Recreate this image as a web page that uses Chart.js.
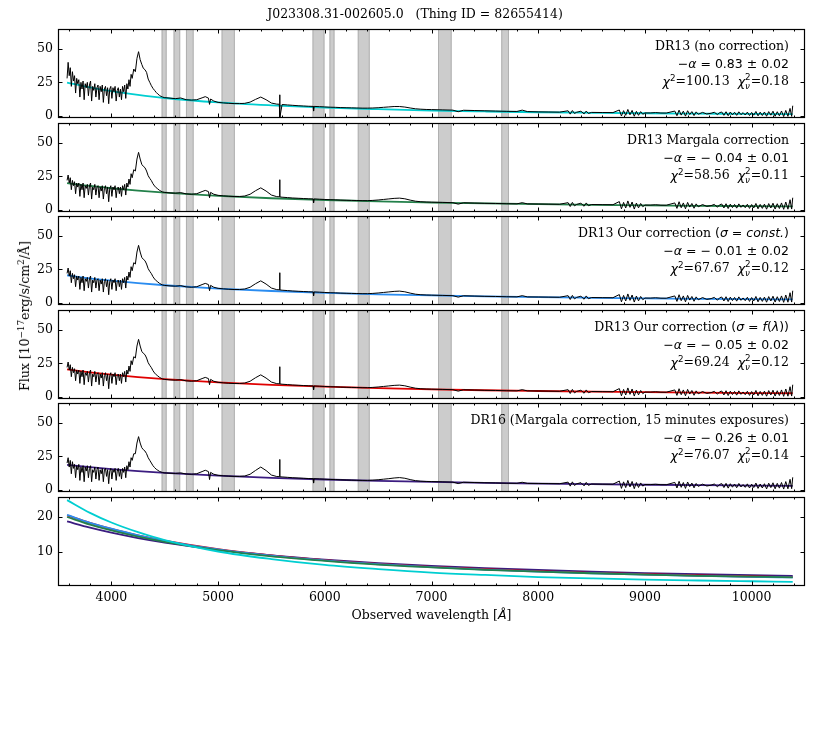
<!DOCTYPE html>
<html>
<head>
<meta charset="utf-8">
<script src="https://cdn.jsdelivr.net/npm/chart.js@4.4.1/dist/chart.umd.min.js"></script>
<style>
  body { margin: 0; background: #fff; }
  #fig { position: relative; width: 830px; height: 738px; overflow: hidden; font-family: 'DejaVu Serif', serif; color: #000; }
  canvas { position: absolute; left: 0; }
  .txt { position: absolute; font-size: 12.5px; line-height: 16px; white-space: pre; }
  .ann { right: 41px; text-align: right; }
  .m { font-family: 'DejaVu Sans', sans-serif; }
  sup { font-size: 0.7em; vertical-align: 0.55em; line-height: 0; }
  .ss { display: inline-block; font-size: 0.7em; line-height: 0.95; vertical-align: -0.35em; text-align: left; }
  .ss span { display: block; }
</style>
</head>
<body>
<div id="fig"></div>
<script>
// ---- data ----

// wavelength grid of the spectra [Angstrom]
const wave = [
  3585,3595,3605,3615,3625,3635,3645,3655,3665,3675,
  3685,3695,3705,3715,3725,3735,3745,3755,3765,3775,
  3785,3795,3805,3815,3825,3835,3845,3855,3865,3875,
  3885,3895,3905,3915,3925,3935,3945,3955,3965,3975,
  3985,3995,4005,4015,4025,4035,4045,4055,4065,4075,
  4085,4095,4105,4115,4125,4135,4145,4155,4165,4175,
  4185,4195,
  4210,4225,4240,4255,4270,4285,4300,4315,4330,4345,
  4360,4375,4390,4405,4420,4435,4450,4465,4480,4495,
  4550,4600,4650,4700,4750,4800,4850,4880,4910,4920,
  4930,4960,5000,5050,5100,5150,5200,5250,5300,5350,
  5400,5450,5500,5550,5574,5577,5580,5600,5650,5700,
  5750,5800,5850,5890,5895,5900,5950,6000,6050,6100,
  6150,6200,6250,6300,6350,6400,6450,6500,6550,6600,
  6650,6700,6750,6800,6850,6900,6950,7000,7100,7200,
  7250,7300,7400,7500,7600,7700,7800,7850,7900,
  8000,8100,8200,8280,8300,8320,8340,8360,8400,8430,
  8450,8470,8500,8600,8700,8760,8780,8800,8820,8840,
  8860,8880,8900,8920,8940,8960,8980,9000,9050,9100,
  9150,9200,9280,9300,9320,9340,9360,9380,9400,9420,
  9440,9460,9480,9500,9540,9580,9620,9650,9680,9700,
  9720,9740,9760,9780,9800,9820,9840,9860,9880,9900,
  9920,9940,9960,9980,10000,10020,10040,10060,10080,10100,
  10120,10140,10160,10180,10200,10220,10240,10260,10280,10300,
  10320,10340,10360,10375,10385
];

// DR13 spectrum without correction
const fluxNoCorr = [
  28,40,30,36,22,33,26,30,17,28,
  24,27,14,25,20,26,12,24,21,25,
  15,23,26,11,22,19,24,14,21,23,
  12,22,18,23,10,20,22,15,21,9,
  20,22,13,21,18,22,11,19,21,14,
  20,12,22,18,23,13,24,20,27,22,
  31,28,
  35,33,43,48,42,38.5,35.5,34.5,32.5,27.5,
  25,22.5,20.5,19,17.5,16.3,15.3,14.5,14,13.6,
  13.2,12.8,13.3,12.0,11.7,12.0,13.4,14.3,13.2,8.5,
  12.5,11.0,10.0,9.6,9.3,9.1,9.1,9.3,10.2,12.2,
  14.0,12.0,9.5,8.7,8.6,15.7,-1.5,8.4,8.1,7.8,
  7.5,7.3,7.1,7.0,3.5,7.0,6.8,6.6,6.4,6.3,
  6.1,6.0,5.9,5.8,5.7,5.7,5.8,6.0,6.3,6.6,
  6.9,6.9,6.5,5.8,5.2,4.9,4.7,4.6,4.4,4.2,
  3.0,4.1,3.9,3.7,3.5,3.3,3.2,4.2,3.1,
  2.9,2.8,2.7,3.7,1.2,3.9,1.7,2.6,3.4,1.4,
  3.5,1.7,2.5,2.4,2.35,4.3,-0.2,3.8,0.3,4.7,
  0.7,4.0,-0.4,3.3,0.3,3.1,1.1,2.1,2.08,2.36,
  2.04,2.02,3.5,0,4.2,0.45,3.45,-0.3,3.75,0.9,
  3.1,0.1,2.9,1.1,2.5,1.3,1.85,2.6,0.85,2.3,
  2.8,0.3,3.0,0,2.8,0.6,2.58,0.28,2.96,0.76,
  2.34,0.52,2.72,0.1,2.5,0.4,3.2,-0.1,2.7,0.15,
  2.8,-0.4,3.1,0.4,3.4,-0.4,3.0,-0.05,3.55,-0.65,
  4.0,-0.45,5.5,-0.5,7.5
];

// DR13 spectrum with flux correction (Margala / ours)
const fluxCorr = [
  22,26,20,24,15,22,18,21,12,20,
  17,20,10,19,15,20,9,18,16,19,
  11,18,20,8,17,15,19,11,17,18,
  9,17,14,18,8,16,18,12,17,6,
  16,18,10,17,15,18,9,16,17,12,
  17,10,18,15,19,11,20,17,23,19,
  27,24,
  30,29,38,43,38,34,32.5,31.5,29,25.5,
  23.5,21.8,19.5,17.8,16.5,15.6,14.6,13.9,13.3,13.0,
  12.6,12.4,12.8,11.9,11.6,12.0,13.6,14.5,13.6,9.0,
  13.0,11.6,10.8,10.4,10.1,9.9,9.9,10.3,11.6,14.2,
  16.4,14.0,11.0,9.8,9.7,22.5,9.6,9.4,9.1,8.8,
  8.6,8.4,8.2,8.1,5.2,8.1,7.9,7.7,7.5,7.4,
  7.2,7.1,7.0,6.9,6.8,6.8,7.0,7.3,7.7,8.1,
  8.5,8.7,8.2,7.2,6.4,6.0,5.8,5.7,5.5,5.3,
  4.2,5.2,5.0,4.8,4.7,4.5,4.4,5.3,4.35,
  4.3,4.2,4.1,5.3,2.4,5.5,2.9,4.0,4.9,2.6,
  5.1,3.0,3.9,3.8,3.75,6.1,0.7,5.5,1.3,6.6,
  1.8,5.8,0.5,5.0,1.4,4.7,2.3,3.5,3.47,3.74,
  3.41,3.38,5.1,1.0,6.0,1.5,5.1,0.7,5.5,2.0,
  4.7,1.1,4.4,2.2,3.9,2.5,3.1,4.0,1.9,3.7,
  4.3,1.3,4.5,0.9,4.2,1.6,4.0,1.2,4.4,1.8,
  3.6,1.5,4.1,1.0,3.9,1.3,4.7,0.7,4.0,1.0,
  4.2,0.4,4.6,1.3,4.9,0.5,4.5,0.9,5.1,0.3,
  5.8,0.4,7.5,0.5,9.0
];

// DR16 spectrum
const fluxDR16 = [
  20,24,17,22,12,21,16,19,9,18,
  15,19,7,17,13,18,6,17,14,18,
  9,16,18,6,15,13,17,8,15,17,
  7,15,12,16,6,15,16,10,15,4.5,
  14,16,8,15,13,16,7,14,16,10,
  15,8,16,13,17,9,18,15,21,17,
  24,22,
  27,27,35,39.8,35,31.5,30,29,27,24,
  22,20,18,16.6,15.4,14.6,13.8,13.3,12.9,12.6,
  12.4,12.2,12.6,11.8,11.6,12.0,13.6,14.6,13.6,7.6,
  13.0,11.6,10.8,10.4,10.2,10.0,10.0,10.3,11.6,14.4,
  17.0,14.4,11.0,9.9,9.8,22.7,9.7,9.6,9.3,9.0,
  8.8,8.6,8.4,8.3,5.0,8.3,8.1,7.9,7.7,7.6,
  7.4,7.3,7.2,7.1,7.0,7.0,7.2,7.5,7.9,8.3,
  8.8,9.1,8.6,7.6,6.8,6.4,6.2,6.1,5.9,5.7,
  4.6,5.6,5.4,5.2,5.1,4.9,4.8,5.6,4.75,
  4.7,4.6,4.5,5.7,2.7,5.9,3.2,4.4,5.3,2.9,
  5.5,3.3,4.3,4.2,4.15,6.5,1.0,5.9,1.6,7.0,
  2.1,6.2,0.8,5.4,1.7,5.1,2.7,3.9,3.86,4.12,
  3.78,3.74,5.5,1.3,6.3,1.8,5.4,1.0,5.8,2.3,
  5.0,1.4,4.7,2.5,4.2,2.8,3.42,4.3,2.2,4.0,
  4.6,1.6,4.8,1.2,4.5,1.9,4.3,1.5,4.7,2.1,
  3.9,1.8,4.4,1.3,4.2,1.6,5.0,1.0,4.3,1.3,
  4.5,0.6,4.9,1.6,5.2,0.7,4.8,1.2,5.4,0.5,
  6.1,0.7,7.8,0.8,9.3
];

// power-law fits, read at a few wavelengths
const fitWave   = [3585, 3800, 4000, 4250, 4500, 5000, 5500, 6000, 6500, 7000, 7500, 8000, 8500, 9000, 9500, 10000, 10385];
const fitNoCorr = [24.9, 21.2, 18.4, 15.6, 13.3, 10.0, 7.8, 6.1, 4.9, 3.9, 3.2, 2.6, 2.2, 1.85, 1.6, 1.38, 1.22];
const fitMargala = [20.0, 17.8, 16.1, 14.3, 12.8, 10.4, 8.6, 7.3, 6.2, 5.4, 4.7, 4.15, 3.7, 3.3, 2.95, 2.7, 2.5];
const fitOurConst = [20.6, 18.3, 16.6, 14.7, 13.1, 10.6, 8.8, 7.4, 6.3, 5.45, 4.75, 4.15, 3.7, 3.3, 2.95, 2.65, 2.48];
const fitOurLam = [20.5, 18.3, 16.55, 14.7, 13.15, 10.7, 8.9, 7.5, 6.4, 5.55, 4.85, 4.3, 3.8, 3.4, 3.05, 2.75, 2.6];
const fitDR16   = [18.7, 16.9, 15.45, 13.9, 12.6, 10.5, 8.9, 7.65, 6.65, 5.85, 5.2, 4.65, 4.15, 3.75, 3.42, 3.14, 2.95];

// masked regions (grey bands)
const bandStart = [4471, 4583, 4699, 5033, 5885, 6044, 6309, 7061, 7654];
const bandEnd   = [4518, 4645, 4771, 5157, 5997, 6091, 6421, 7189, 7726];

// ticks
const xTicks = [4000, 5000, 6000, 7000, 8000, 9000, 10000];
const yTicksSpec = [0, 25, 50];
const yTicksFit = [10, 20];

// labels
const titleText = 'J023308.31-002605.0   (Thing ID = 82655414)';
const panelNames = [
  'DR13 (no correction)',
  'DR13 Margala correction',
  'DR13 Our correction <span class="m">(<i>σ</i> = <i>const.</i>)</span>',
  'DR13 Our correction <span class="m">(<i>σ</i> = <i>f</i>(<i>λ</i>))</span>',
  'DR16 (Margala correction, 15 minutes exposures)'
];
const alphaText = ['0.83 ± 0.02', '− 0.04 ± 0.01', '− 0.01 ± 0.02', '− 0.05 ± 0.02', '− 0.26 ± 0.01'];
const chi2 = ['100.13', '58.56', '67.67', '69.24', '76.07'];
const chi2nu = ['0.18', '0.11', '0.12', '0.12', '0.14'];

const colors = ['#00ced1', '#23804a', '#2a8cf0', '#e00000', '#3b1c80'];

// ---- drawing ----
Chart.defaults.font.family = "'DejaVu Serif', serif";
Chart.defaults.font.size = 12.5;
Chart.defaults.color = '#000';

const fig = document.getElementById('fig');

//frame, inward ticks and grey bands (matplotlib look)
const framePlugin = {
  id: 'frame',
  beforeDatasetsDraw(chart, args, opts) {
    if (!opts.bands) return;
    const { ctx, chartArea: a, scales: { x } } = chart;
    ctx.save();
    bandStart.forEach((s, i) => {
      const x0 = x.getPixelForValue(s), x1 = x.getPixelForValue(bandEnd[i]);
      ctx.fillStyle = '#cccccc';
      ctx.fillRect(x0, a.top, x1 - x0, a.bottom - a.top);
      ctx.strokeStyle = '#b0b0b0';
      ctx.lineWidth = 1;
      ctx.beginPath();
      ctx.moveTo(x0 + 0.5, a.top); ctx.lineTo(x0 + 0.5, a.bottom);
      ctx.moveTo(x1 - 0.5, a.top); ctx.lineTo(x1 - 0.5, a.bottom);
      ctx.stroke();
    });
    ctx.restore();
  },
  afterDraw(chart, args, opts) {
    const { ctx, chartArea: a, scales: { x, y } } = chart;
    ctx.save();
    ctx.strokeStyle = '#000';
    ctx.lineWidth = 1;
    ctx.beginPath();
    for (let v = 3600; v <= 10400; v += 200) {
      const px = Math.round(x.getPixelForValue(v)) + 0.5;
      const len = v % 1000 === 0 ? 4.5 : 2.5;
      ctx.moveTo(px, a.top); ctx.lineTo(px, a.top + len);
      ctx.moveTo(px, a.bottom); ctx.lineTo(px, a.bottom - len);
    }
    opts.yTicks.forEach(v => {
      const py = Math.round(y.getPixelForValue(v)) + 0.5;
      ctx.moveTo(a.left, py); ctx.lineTo(a.left + 4.5, py);
      ctx.moveTo(a.right, py); ctx.lineTo(a.right - 4.5, py);
    });
    ctx.stroke();
    ctx.lineWidth = 1.2;
    ctx.strokeRect(Math.round(a.left) + 0.5, Math.round(a.top) + 0.5,
      Math.round(a.right - a.left) - 1, Math.round(a.bottom - a.top) - 1);
    ctx.restore();
  }
};

function points(xs, ys) {
  const n = Math.min(xs.length, ys.length);
  const out = [];
  for (let i = 0; i < n; i++) out.push({ x: xs[i], y: ys[i] });
  return out;
}

function specSet(flux) {
  return { data: points(wave, flux), borderColor: '#000', borderWidth: 1, pointRadius: 0, tension: 0 };
}
function fitSet(fit, color) {
  return { data: points(fitWave, fit), borderColor: color, borderWidth: 1.8, pointRadius: 0, cubicInterpolationMode: 'monotone' };
}

const panelTops = [29, 123, 216, 310, 403, 497];
const panelH = 89;

function makePanel(i, datasets, yMin, yMax, yTicks, last) {
  // padding larger than half a tick label + tick padding, so the plot area keeps its size
  const padTop = 16;
  const padBottom = last ? 0 : 16;
  const xAxisH = last ? 26 : 0;
  const cv = document.createElement('canvas');
  cv.width = 830;
  cv.height = padTop + panelH + padBottom + xAxisH;
  cv.style.top = (panelTops[i] - padTop) + 'px';
  fig.appendChild(cv);

  new Chart(cv, {
    type: 'line',
    data: { datasets: datasets },
    options: {
      responsive: false,
      animation: false,
      layout: { padding: { top: padTop, right: 25, bottom: padBottom, left: 0 } },
      plugins: {
        legend: { display: false },
        tooltip: { enabled: false },
        frame: { bands: !last, yTicks: yTicks }
      },
      scales: {
        x: {
          type: 'linear',
          min: 3500,
          max: 10500,
          display: last,
          grid: { display: false, drawTicks: false },
          border: { display: false },
          afterBuildTicks: s => { s.ticks = xTicks.map(v => ({ value: v })); },
          afterFit: s => { s.height = xAxisH; },
          ticks: { padding: 4, maxRotation: 0, callback: v => String(v) }
        },
        y: {
          min: yMin,
          max: yMax,
          grid: { display: false, drawTicks: false },
          border: { display: false },
          afterBuildTicks: s => { s.ticks = yTicks.map(v => ({ value: v })); },
          afterFit: s => { s.width = 58; },
          ticks: { padding: 5, callback: v => String(v) }
        }
      }
    },
    plugins: [framePlugin]
  });
}

const spectra = [fluxNoCorr, fluxCorr, fluxCorr, fluxCorr, fluxDR16];
const fits = [fitNoCorr, fitMargala, fitOurConst, fitOurLam, fitDR16];

for (let i = 0; i < 5; i++) {
  makePanel(i, [specSet(spectra[i]), fitSet(fits[i], colors[i])], -1.7, 65, yTicksSpec, false);
}
makePanel(5, fits.map((f, i) => fitSet(f, colors[i])), 0, 25.8, yTicksFit, true);

// ---- text ----
function addText(html, cls, style) {
  const d = document.createElement('div');
  d.className = 'txt ' + cls;
  d.innerHTML = html;
  Object.assign(d.style, style);
  fig.appendChild(d);
  return d;
}

addText(titleText, '', { left: '0', width: '830px', textAlign: 'center', top: '6px' });

for (let i = 0; i < 5; i++) {
  const t = panelTops[i];
  addText(panelNames[i], 'ann', { top: (t + 17.4 - 8) + 'px' });
  addText('<span class="m">−<i>α</i> = ' + alphaText[i] + '</span>', 'ann', { top: (t + 34.6 - 8) + 'px' });
  addText('<span class="m"><i>χ</i><sup>2</sup></span>=' + chi2[i] +
    '  <span class="m"><i>χ</i><span class="ss"><span>2</span><span><i>ν</i></span></span></span>=' + chi2nu[i],
    'ann', { top: (t + 52.4 - 8) + 'px' });
}

addText('Observed wavelength [<span class="m"><i>Å</i></span>]', '',
  { left: '58px', width: '747px', textAlign: 'center', top: '607px' });

addText('Flux [10<sup>−17</sup>erg/s/cm<sup>2</sup>/Å]', '',
  { left: '25px', top: '316px', transform: 'translate(-50%, -50%) rotate(-90deg)' });
</script>
</body>
</html>
